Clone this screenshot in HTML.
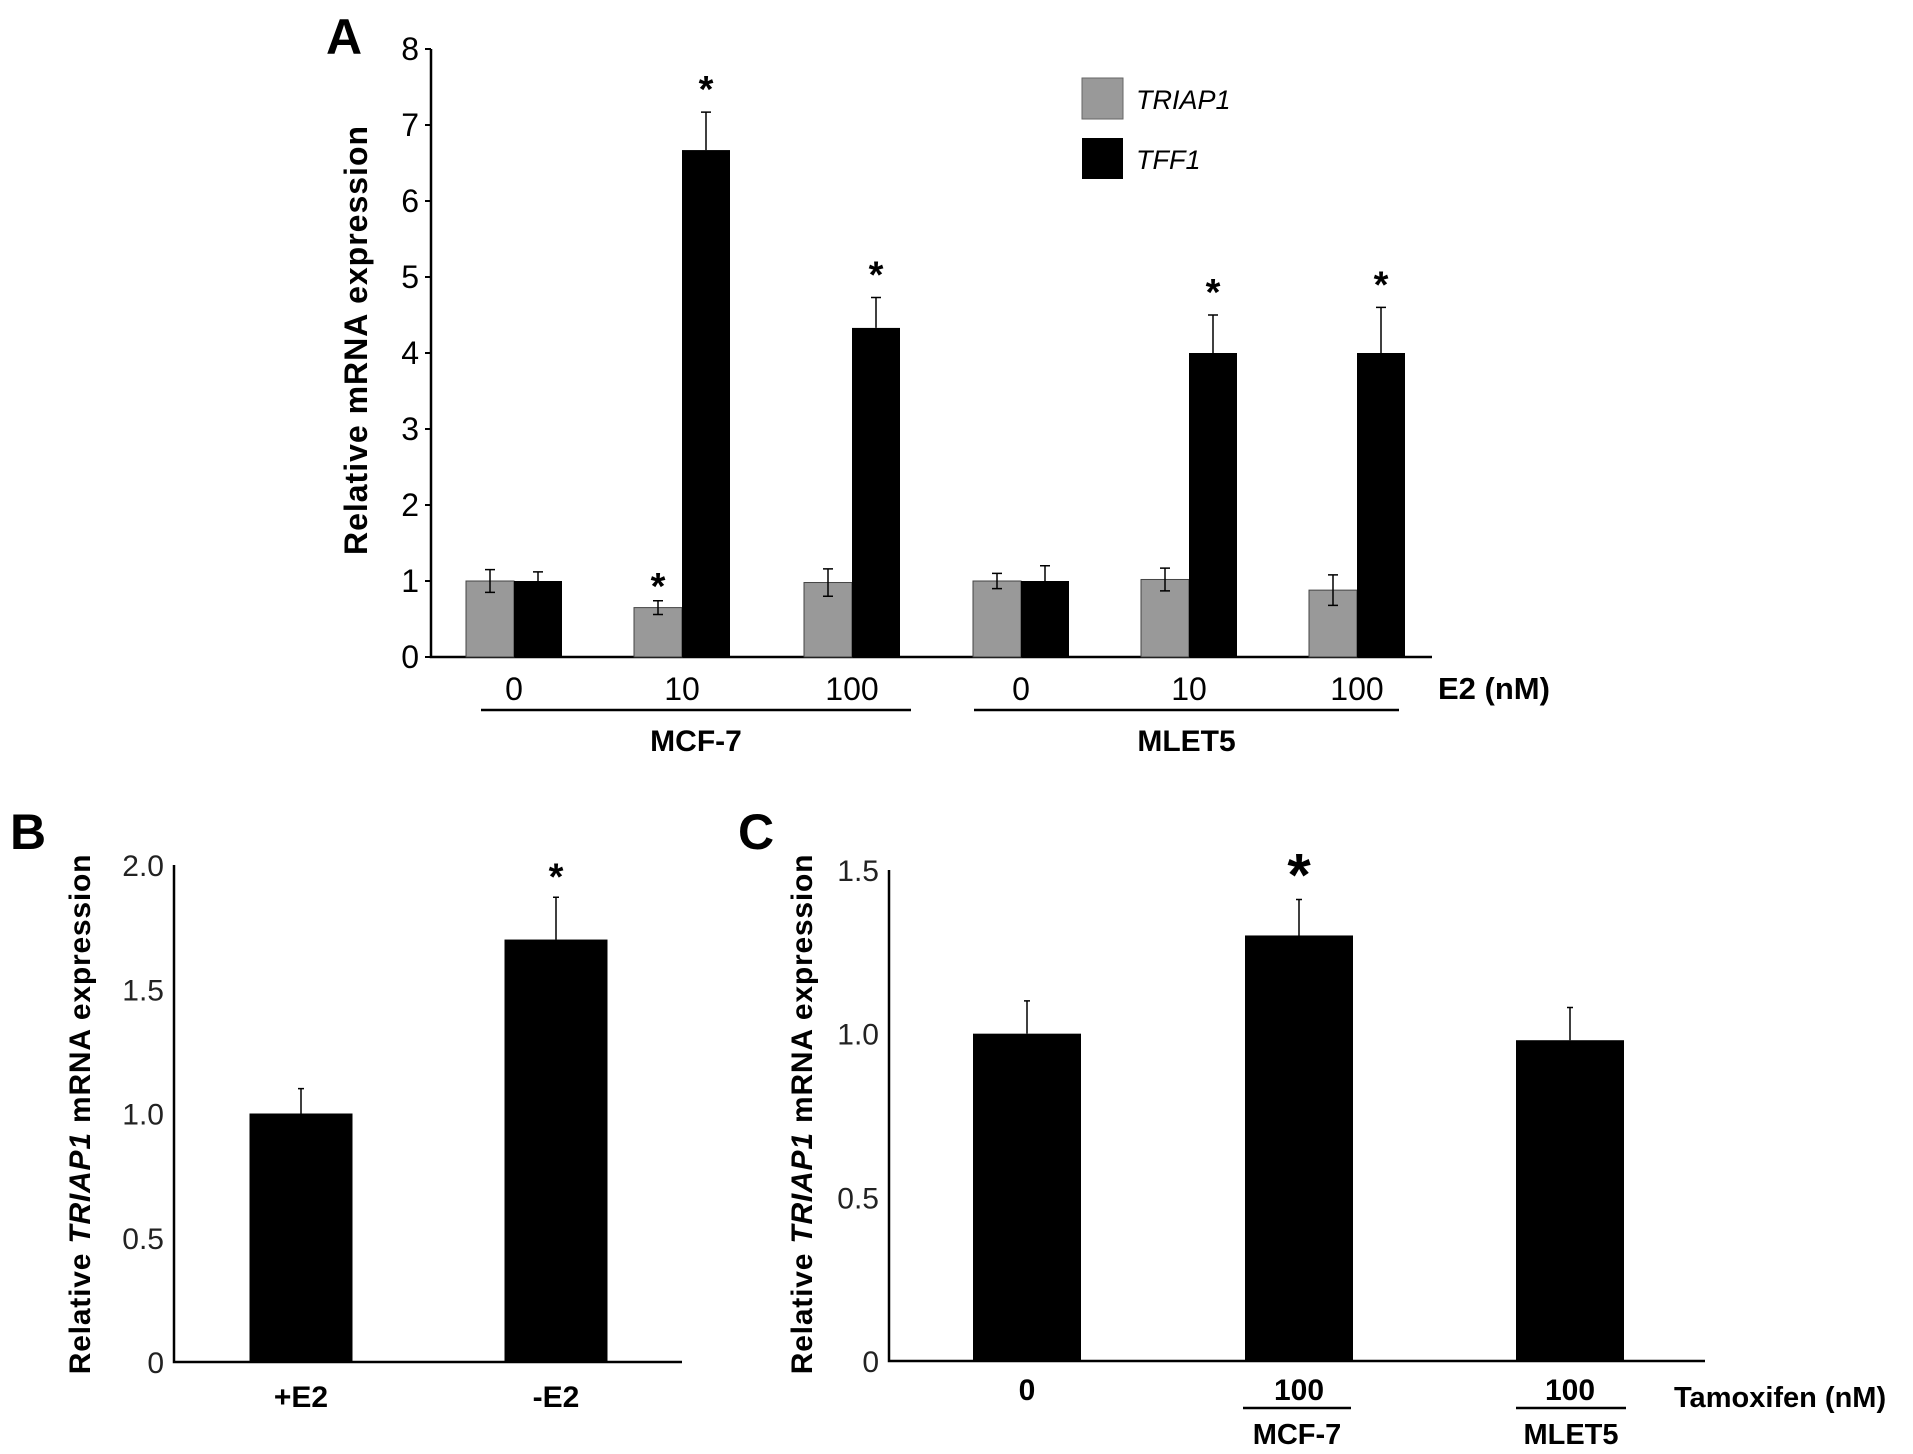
<!DOCTYPE html>
<html><head><meta charset="utf-8"><style>
html,body{margin:0;padding:0;background:#fff;}
svg{display:block;font-family:"Liberation Sans",Arial,sans-serif;}
</style></head><body>
<svg id="fig" width="1913" height="1454" viewBox="0 0 1913 1454" xmlns="http://www.w3.org/2000/svg">
<g id="pa"></g>
<g id="pb"></g>
<g id="pc"></g>
</svg>
<script>
// Panel A data
const aCategories = ["0","10","100","0","10","100"];
const aTriap = [1, 0.65, 0.98, 1, 1.02, 0.88];
const aTriapErr = [0.15, 0.09, 0.18, 0.1, 0.15, 0.2];
const aTff = [1, 6.67, 4.33, 1, 4, 4];
const aTffErr = [0.12, 0.5, 0.4, 0.2, 0.5, 0.6];
const aTriapStar = [false, true, false, false, false, false];
const aTffStar = [false, true, true, false, true, true];
const aTicks = [0,1,2,3,4,5,6,7,8];
// Panel B data
const bCategories = ["+E2","-E2"];
const bValues = [1.0, 1.7];
const bErr = [0.1, 0.17];
const bStar = [false, true];
const bTicks = ["0","0.5","1.0","1.5","2.0"];
// Panel C data
const cCategories = ["0","100","100"];
const cValues = [1.0, 1.3, 0.98];
const cErr = [0.1, 0.11, 0.1];
const cStar = [false, true, false];
const cTicks = ["0","0.5","1.0","1.5"];

const NS = "http://www.w3.org/2000/svg";
function mk(parent, tag, attrs, text){
  const e = document.createElementNS(NS, tag);
  for (const k in attrs) e.setAttribute(k, attrs[k]);
  if (text !== undefined) e.textContent = text;
  parent.appendChild(e);
  return e;
}
function errBar(g, x, yTop, yErr, cap){
  const p = mk(g, "path", {d:`M${x} ${yTop}V${yErr}M${x-cap} ${yErr}H${x+cap}`, stroke:"#000", "stroke-width":1.5, fill:"none"});
  
  
}

// ---------- Panel A ----------
(function(){
  const g = document.getElementById("pa");
  const ax = 431, y0 = 657, y8 = 49, xEnd = 1432;
  const ys = v => y0 - (y0 - y8) * v / 8;
  const centers = [514, 682, 852, 1021, 1189, 1357];
  const bw = 48;
  let t = mk(g, "text", {x:326, y:54, "font-size":50, "font-weight":"bold"}, "A");
   
  let l = mk(g, "path", {d:`M${ax} ${y8}V${y0}H${xEnd}`, stroke:"#000", "stroke-width":2.5, fill:"none"});
   
  aTicks.forEach(v=>{
    const tk = mk(g, "path", {d:`M${ax-6} ${ys(v)}H${ax}`, stroke:"#000", "stroke-width":2});
     
    const tl = mk(g, "text", {x:ax-12, y:ys(v)+11, "font-size":32, "text-anchor":"end"}, String(v));
     
  });
  const yt = mk(g, "text", {x:0, y:0, "font-size":32, "letter-spacing":1, "font-weight":"bold", "text-anchor":"middle", transform:"translate(367,340) rotate(-90)"}, "Relative mRNA expression");
   
  aCategories.forEach((c,i)=>{
    const cx = centers[i];
    const r1 = mk(g, "rect", {x:cx-bw, y:ys(aTriap[i]), width:bw, height:y0-ys(aTriap[i]), fill:"#999", stroke:"#444", "stroke-width":1});
     
    errBar(g, cx-bw/2, ys(aTriap[i]), ys(aTriap[i]+aTriapErr[i]), 5);
    errBar(g, cx-bw/2, ys(aTriap[i]), ys(aTriap[i]-aTriapErr[i]), 5);
    const r2 = mk(g, "rect", {x:cx, y:ys(aTff[i]), width:bw, height:y0-ys(aTff[i]), fill:"#000"});
     
    errBar(g, cx+bw/2, ys(aTff[i]), ys(aTff[i]+aTffErr[i]), 5);
    if (aTriapStar[i]) { const s = mk(g, "text", {x:cx-bw/2, y:ys(aTriap[i]+aTriapErr[i])-2, "font-size":38, "text-anchor":"middle", "font-weight":"bold"}, "*");   }
    if (aTffStar[i]) { const s = mk(g, "text", {x:cx+bw/2, y:ys(aTff[i]+aTffErr[i])-10, "font-size":38, "text-anchor":"middle", "font-weight":"bold"}, "*");   }
    const xl = mk(g, "text", {x:cx, y:700, "font-size":32, "text-anchor":"middle"}, c);
     
  });
  const e2 = mk(g, "text", {x:1438, y:699, "font-size":31, "font-weight":"bold"}, "E2 (nM)");
   
  [[481,911,"MCF-7"],[974,1399,"MLET5"]].forEach(([a,b,n])=>{
    const u = mk(g, "path", {d:`M${a} 710H${b}`, stroke:"#000", "stroke-width":2.5});
     
    const gt = mk(g, "text", {x:(a+b)/2, y:751, "font-size":30, "font-weight":"bold", "text-anchor":"middle"}, n);
     
  });
  const lg = mk(g, "g", {});
   
  let b1 = mk(lg, "rect", {x:1082, y:78, width:41, height:41, fill:"#999", stroke:"#666"});
   
  let t1 = mk(lg, "text", {x:1136, y:109, "font-size":27, "font-style":"italic"}, "TRIAP1");
   
  let b2 = mk(lg, "rect", {x:1082, y:138, width:41, height:41, fill:"#000"});
   
  let t2 = mk(lg, "text", {x:1136, y:169, "font-size":27, "font-style":"italic"}, "TFF1");
   
})();

function simplePanel(id, o){
  const g = document.getElementById(id);
  const ys = v => o.y0 - (o.y0 - o.yMaxPx) * v / o.vMax;
  let t = mk(g, "text", {x:o.letterX, y:849, "font-size":50, "font-weight":"bold"}, o.letter);
   
  let l = mk(g, "path", {d:`M${o.ax} ${o.yMaxPx}V${o.y0}H${o.xEnd}`, stroke:"#000", "stroke-width":2.5, fill:"none"});
   
  o.ticks.forEach(s=>{
    const v = parseFloat(s);
    const tl = mk(g, "text", {x:o.ax-10, y:ys(v)+11, "font-size":30, "text-anchor":"end", fill:"#222"}, s);
     
  });
  const yt = mk(g, "text", {x:0, y:0, "font-size":30, "letter-spacing":0.8, "font-weight":"bold", "text-anchor":"middle", transform:`translate(${o.titleX},1114) rotate(-90)`});
   
  mk(yt, "tspan", {}, "Relative ");
  mk(yt, "tspan", {"font-style":"italic"}, "TRIAP1");
  mk(yt, "tspan", {}, " mRNA expression");
  o.cats.forEach((c,i)=>{
    const cx = o.centers[i];
    const r = mk(g, "rect", {x:cx-o.bw/2, y:ys(o.vals[i]), width:o.bw, height:o.y0-ys(o.vals[i]), fill:"#000"});
     
    errBar(g, cx, ys(o.vals[i]), ys(o.vals[i]+o.err[i]), 3);
    if (o.star[i]) { const s = mk(g, "text", {x:cx, y:ys(o.vals[i]+o.err[i])-o.starGap, "font-size":o.starSize, "text-anchor":"middle", "font-weight":"bold"}, "*");   }
    const xl = mk(g, "text", {x:cx, y:o.labelY, "font-size":30, "font-weight":"bold", "text-anchor":"middle"}, c);
     
  });
}
simplePanel("pb", {letter:"B", letterX:10, ax:174, y0:1362, yMaxPx:865, vMax:2, xEnd:682,
  ticks:bTicks, titleX:90, cats:bCategories, vals:bValues, err:bErr, star:bStar,
  centers:[301,556], bw:103, labelY:1407, starGap:8, starSize:38});
simplePanel("pc", {letter:"C", letterX:738, ax:889, y0:1361, yMaxPx:870, vMax:1.5, xEnd:1705,
  ticks:cTicks, titleX:812, cats:cCategories, vals:cValues, err:cErr, star:cStar,
  centers:[1027,1299,1570], bw:108, labelY:1400, starGap:4, starSize:60});
(function(){
  const g = document.getElementById("pc");
  const tx = mk(g, "text", {x:1674, y:1407, "font-size":29, "font-weight":"bold"}, "Tamoxifen (nM)");
   
  [[1243,1351,"MCF-7"],[1516,1626,"MLET5"]].forEach(([a,b,n])=>{
    const u = mk(g, "path", {d:`M${a} 1408H${b}`, stroke:"#000", "stroke-width":2.5});
     
    const gt = mk(g, "text", {x:(a+b)/2, y:1444, "font-size":29, "font-weight":"bold", "text-anchor":"middle"}, n);
     
  });
})();
</script>
</body></html>
